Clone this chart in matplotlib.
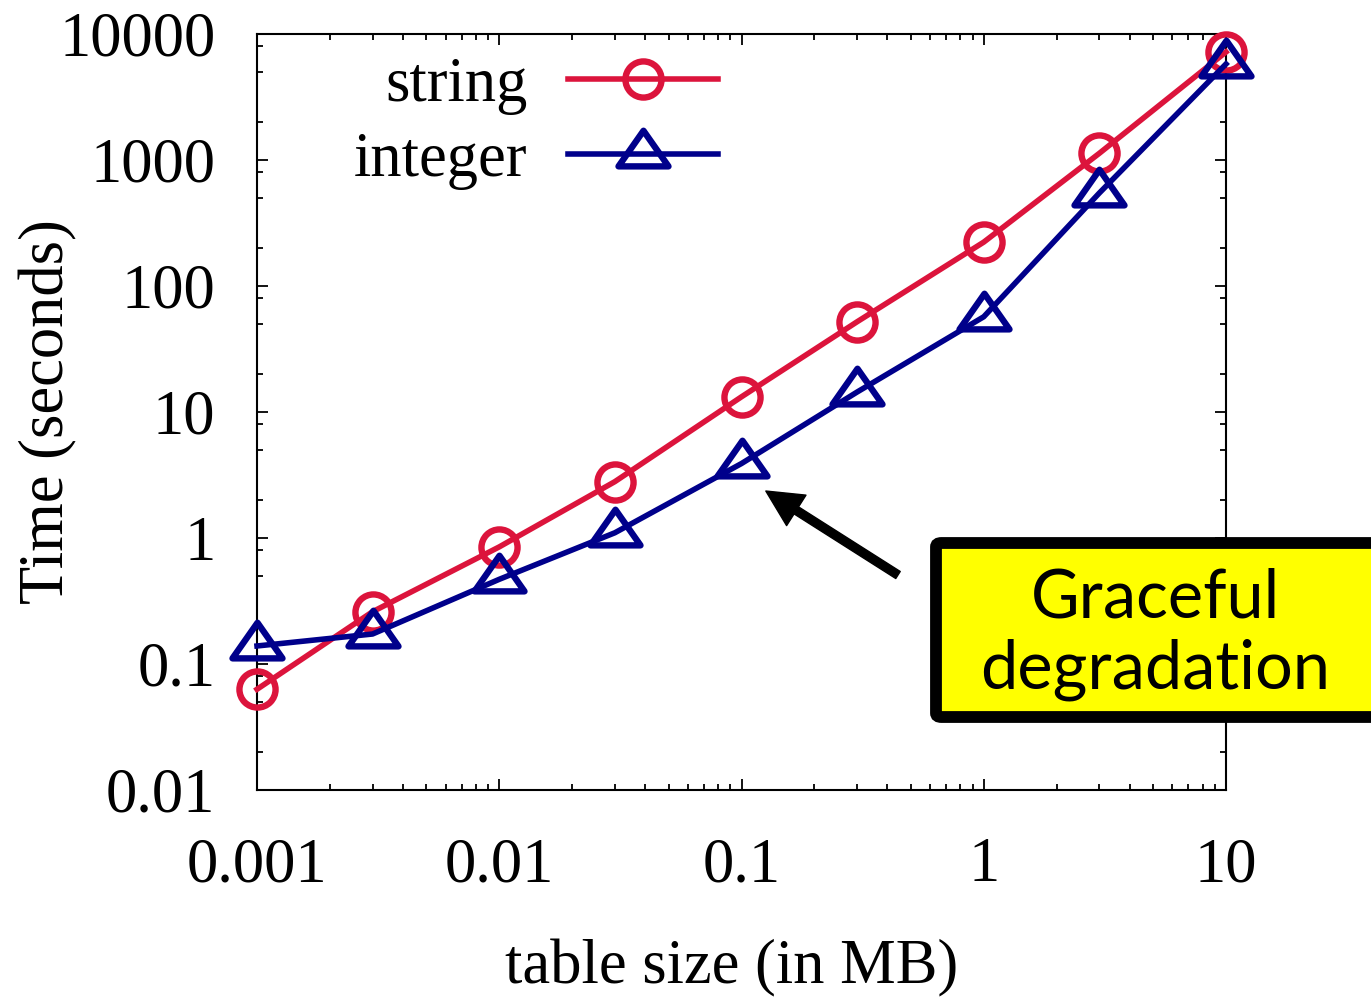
import numpy as np
import matplotlib
matplotlib.use('Agg')
import matplotlib.pyplot as plt
from matplotlib.path import Path
from matplotlib.patches import FancyBboxPatch
from matplotlib.ticker import LogLocator, NullFormatter, FixedLocator, FixedFormatter

# data
table_size = [0.001, 0.003, 0.01, 0.03, 0.1, 0.3, 1, 3, 10]
time_string = [0.063, 0.26, 0.85, 2.8, 13.2, 52, 223, 1130, 7200]
time_integer = [0.139, 0.173, 0.47, 1.10, 3.9, 14.4, 57, 547, 5780]

x_ticks = [0.001, 0.01, 0.1, 1, 10]
x_ticklabels = ['0.001', '0.01', '0.1', '1', '10']
y_ticks = [0.01, 0.1, 1, 10, 100, 1000, 10000]
y_ticklabels = ['0.01', '0.1', '1', '10', '100', '1000', '10000']

red = '#DC143C'
blue = '#00008B'
serif = 'Liberation Serif'
fs = 45

# gnuplot-ish triangle, centred on its centroid
tri = Path([(0, 0.95), (-1, -0.475), (1, -0.475), (0, 0.95)],
           [Path.MOVETO, Path.LINETO, Path.LINETO, Path.CLOSEPOLY])

fig = plt.figure(figsize=(13.71, 10), dpi=100)
ax = fig.add_axes([257/1371, 1-790/1000, 969/1371, 756/1000])

ax.plot(table_size, time_string, color=red, lw=4, marker='o', ms=26,
        mfc='none', mec=red, mew=4.6, label='string', clip_on=False, zorder=3)
ax.plot(table_size, time_integer, color=blue, lw=4, marker=tri, ms=36,
        mfc='none', mec=blue, mew=4.6, label='integer', clip_on=False, zorder=4)

ax.set_xscale('log')
ax.set_yscale('log')
ax.set_xlim(0.001, 10)
ax.set_ylim(0.01, 10000)

ax.xaxis.set_major_locator(FixedLocator(x_ticks))
ax.xaxis.set_major_formatter(FixedFormatter(x_ticklabels))
ax.yaxis.set_major_locator(FixedLocator(y_ticks))
ax.yaxis.set_major_formatter(FixedFormatter(y_ticklabels))
ax.xaxis.set_minor_locator(LogLocator(base=10, subs=np.arange(2, 10), numticks=50))
ax.yaxis.set_minor_locator(LogLocator(base=10, subs=[2, 5, 8], numticks=50))
ax.xaxis.set_minor_formatter(NullFormatter())
ax.yaxis.set_minor_formatter(NullFormatter())

ax.tick_params(which='both', direction='in', top=True, right=True, color='black')
ax.tick_params(which='major', length=8, width=1.3)
ax.tick_params(which='minor', length=4, width=1.3)
ax.tick_params(axis='x', which='major', pad=34)
ax.tick_params(axis='y', which='major', pad=30)
for lab in ax.get_xticklabels() + ax.get_yticklabels():
    lab.set_fontfamily(serif)
    lab.set_fontsize(fs)

for sp in ax.spines.values():
    sp.set_linewidth(1.5)

ax.set_xlabel('table size (in MB)', fontfamily=serif, fontsize=fs)
ax.set_ylabel('Time (seconds)', fontfamily=serif, fontsize=fs)
ax.xaxis.set_label_coords(0.49, -0.198)
ax.yaxis.set_label_coords(-0.185, 0.5)

leg = ax.legend(loc='upper right', bbox_to_anchor=(0.476, 0.97), markerfirst=False,
                frameon=False, borderpad=0, borderaxespad=0, handlelength=2.4,
                handletextpad=0.65, labelspacing=0.28, numpoints=1,
                prop={'family': serif, 'size': fs})

# annotation box
box = FancyBboxPatch((936/1371, 1-717/1000), (1380-936)/1371, (717-543)/1000,
                     boxstyle='round,pad=0,rounding_size=0.004',
                     transform=fig.transFigure, fc='#FFFF00', ec='black',
                     lw=8.5, clip_on=False, zorder=5)
fig.patches.append(box)
fig.text(1155/1371, 1-634/1000, 'Graceful\ndegradation', ha='center', va='center',
         fontfamily='Lato', fontsize=48, linespacing=1.18, zorder=6)

ax.annotate('', xy=(0.126, 2.36), xycoords='data',
            xytext=(898/1371, 1-575/1000), textcoords='figure fraction',
            arrowprops=dict(facecolor='black', edgecolor='black', width=6,
                            headwidth=26, headlength=26, shrink=0))

fig.savefig('out.png', dpi=100)
